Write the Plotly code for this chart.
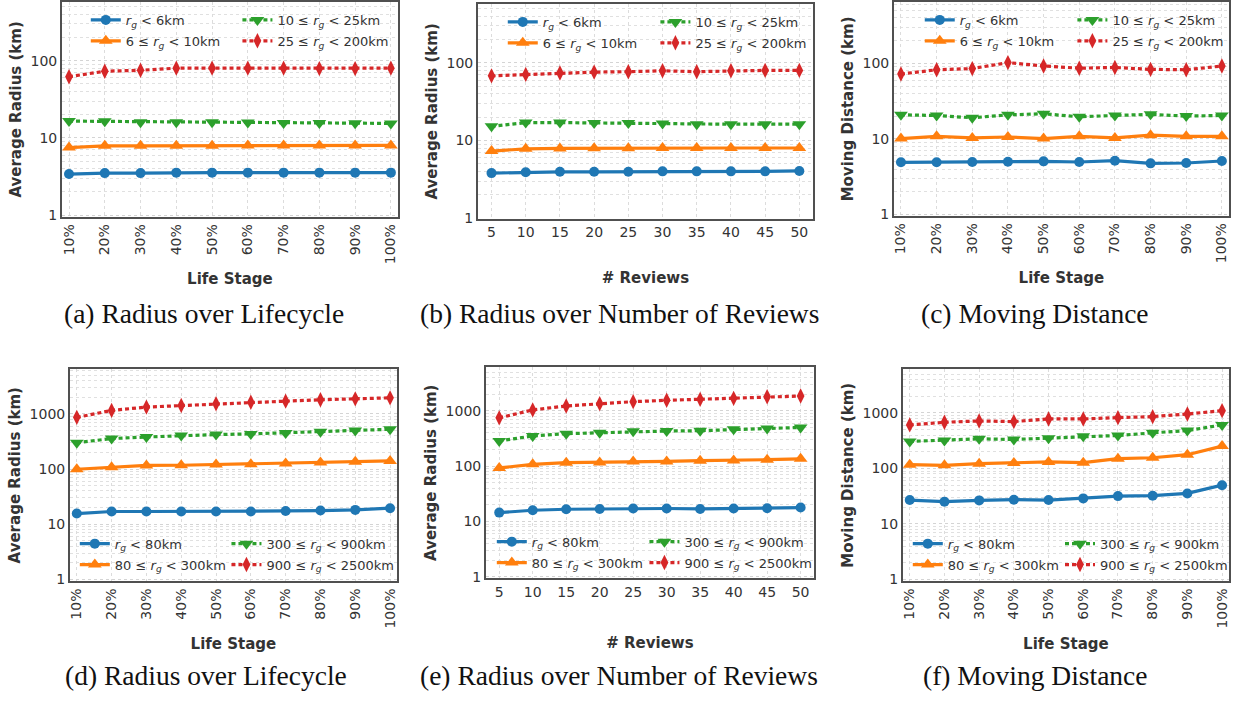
import plotly.graph_objects as go

# ---------------- data ----------------
stages = ["10%", "20%", "30%", "40%", "50%", "60%", "70%", "80%", "90%", "100%"]
reviews = [5, 10, 15, 20, 25, 30, 35, 40, 45, 50]

top_names = ["<i>r</i><sub><i>g</i></sub> &lt; 6km",
             "6 ≤ <i>r</i><sub><i>g</i></sub> &lt; 10km",
             "10 ≤ <i>r</i><sub><i>g</i></sub> &lt; 25km",
             "25 ≤ <i>r</i><sub><i>g</i></sub> &lt; 200km"]
bot_names = ["<i>r</i><sub><i>g</i></sub> &lt; 80km",
             "80 ≤ <i>r</i><sub><i>g</i></sub> &lt; 300km",
             "300 ≤ <i>r</i><sub><i>g</i></sub> &lt; 900km",
             "900 ≤ <i>r</i><sub><i>g</i></sub> &lt; 2500km"]

# (a) radius over lifecycle, small groups
a_s1 = [3.4, 3.5, 3.5, 3.55, 3.55, 3.55, 3.55, 3.55, 3.55, 3.55]
a_s2 = [7.5, 7.9, 7.9, 7.9, 7.9, 7.95, 7.95, 8.0, 8.0, 8.0]
a_s3 = [16.5, 16.4, 16.0, 16.0, 15.9, 15.8, 15.6, 15.6, 15.5, 15.4]
a_s4 = [62, 73, 75, 80, 80, 80, 80, 79, 79, 80]
# (b) radius over number of reviews
b_s1 = [3.8, 3.9, 3.95, 3.95, 3.95, 4.0, 4.0, 4.0, 4.0, 4.05]
b_s2 = [7.3, 7.8, 7.9, 7.95, 7.95, 8.0, 8.0, 8.0, 8.0, 8.0]
b_s3 = [15.2, 17.0, 17.0, 16.8, 16.8, 16.5, 16.2, 16.2, 16.2, 16.2]
b_s4 = [68, 71, 74, 76, 77, 79, 77, 79, 80, 80]
# (c) moving distance
c_s1 = [4.9, 4.9, 4.95, 5.0, 5.05, 4.95, 5.15, 4.75, 4.8, 5.1]
c_s2 = [10.1, 10.8, 10.3, 10.6, 10.1, 10.8, 10.3, 11.2, 10.8, 10.8]
c_s3 = [20.8, 20.4, 19.0, 20.8, 21.5, 19.6, 20.4, 21.1, 20.0, 20.4]
c_s4 = [72, 82, 85, 102, 92, 86, 88, 83, 82, 92]
# (d) radius over lifecycle, large groups
d_s1 = [15.6, 17.0, 17.0, 17.0, 17.0, 17.0, 17.4, 17.7, 18.2, 19.5]
d_s2 = [99, 108, 116, 117, 121, 122, 126, 131, 135, 140]
d_s3 = [300, 355, 380, 405, 420, 432, 450, 474, 495, 524]
d_s4 = [860, 1150, 1320, 1410, 1520, 1620, 1690, 1790, 1860, 1940]
# (e) radius over number of reviews, large groups
e_s1 = [14.5, 16.0, 16.7, 16.9, 17.2, 17.2, 16.9, 17.2, 17.4, 17.9]
e_s2 = [93, 108, 116, 117, 121, 122, 126, 127, 131, 136]
e_s3 = [286, 352, 387, 403, 426, 432, 438, 463, 482, 502]
e_s4 = [748, 1040, 1226, 1350, 1466, 1550, 1615, 1683, 1803, 1853]
# (f) moving distance, large groups
f_s1 = [27, 25.2, 26.6, 27.4, 27, 28.9, 31.8, 32.3, 35.5, 50]
f_s2 = [117, 114, 122, 126, 131, 127, 150, 156, 177, 253]
f_s3 = [307, 320, 342, 333, 352, 382, 393, 438, 482, 609]
f_s4 = [609, 680, 718, 699, 780, 780, 824, 859, 957, 1100]

captions = ["(a) Radius over Lifecycle", "(b) Radius over Number of Reviews",
            "(c) Moving Distance", "(d) Radius over Lifecycle",
            "(e) Radius over Number of Reviews", "(f) Moving Distance"]

# ---------------- styling ----------------
W, H = 1233, 702
colors = ["#1f77b4", "#ff7f0e", "#2ca02c", "#d62728"]
symbols = ["circle", "triangle-up", "triangle-down", "diamond-tall"]
msizes = [10, 12, 12, 11]
dashes = ["solid", "solid", "4px,3px", "4px,3px"]
FONT = "DejaVu Sans"
TXT = "#333333"


def px(x0, x1):
    return [x0 / W, x1 / W]


def py(top, bottom):
    return [1 - bottom / H, 1 - top / H]


panels = [
    dict(data=[a_s1, a_s2, a_s3, a_s4], names=top_names, kind="stage",
         xd=px(60, 397), yd=py(2, 219), yr=[-0.022, 2.76], ytitle="Average Radius (km)",
         xtitle="Life Stage", xst=10, leg=[(84, 5), (236, 5)]),
    dict(data=[b_s1, b_s2, b_s3, b_s4], names=top_names, kind="rev",
         xd=px(477, 813), yd=py(4, 221), yr=[-0.009, 2.759], ytitle="Average Radius (km)",
         xtitle="# Reviews", xst=33, leg=[(502, 7), (655, 7)]),
    dict(data=[c_s1, c_s2, c_s3, c_s4], names=top_names, kind="stage",
         xd=px(894, 1230), yd=py(2, 218), yr=[-0.017, 2.81], ytitle="Moving Distance (km)",
         xtitle="Life Stage", xst=10, leg=[(920, 5), (1073, 5)]),
    dict(data=[d_s1, d_s2, d_s3, d_s4], names=bot_names, kind="stage",
         xd=px(68, 396), yd=py(373, 587), yr=[-0.03, 3.805], ytitle="Average Radius (km)",
         xtitle="Life Stage", xst=11, leg=[(73, 534), (225, 534)]),
    dict(data=[e_s1, e_s2, e_s3, e_s4], names=bot_names, kind="rev",
         xd=px(485, 814), yd=py(371, 584), yr=[-0.023, 3.787], ytitle="Average Radius (km)",
         xtitle="# Reviews", xst=39, leg=[(491, 532), (644, 532)]),
    dict(data=[f_s1, f_s2, f_s3, f_s4], names=bot_names, kind="stage",
         xd=px(903, 1230), yd=py(373, 587), yr=[-0.03, 3.787], ytitle="Moving Distance (km)",
         xtitle="Life Stage", xst=11, leg=[(908, 534), (1061, 534)]),
]

fig = go.Figure()
layout = {}
legn = 0
for i, p in enumerate(panels):
    k = "" if i == 0 else str(i + 1)
    xs = list(range(len(stages))) if p["kind"] == "stage" else reviews
    legs = []
    for c in range(2):
        legn += 1
        lk = "legend" if legn == 1 else "legend%d" % legn
        legs.append(lk)
        lx, ly = p["leg"][c]
        layout[lk] = dict(x=lx / W, y=1 - ly / H, xanchor="left", yanchor="top",
                          orientation="v", bgcolor="rgba(0,0,0,0)", borderwidth=0,
                          tracegroupgap=1,
                          font=dict(family=FONT, size=13, color=TXT))
    for j in range(4):
        fig.add_trace(go.Scatter(
            x=xs, y=p["data"][j], name=p["names"][j], mode="lines+markers",
            xaxis="x" + k, yaxis="y" + k,
            legend=legs[j // 2], legendgroup="g%d_%d" % (i, j),
            line=dict(color=colors[j], width=3.2, dash=dashes[j]),
            marker=dict(symbol=symbols[j], size=msizes[j], color=colors[j], line=dict(width=0)),
        ))
    if p["kind"] == "stage":
        xa = dict(range=[-0.2, 9.2], tickmode="array", tickvals=list(range(10)), ticktext=stages,
                  tickangle=-90)
    else:
        xa = dict(range=[3, 52], tickmode="array", tickvals=reviews, ticktext=[str(r) for r in reviews],
                  tickangle=0)
    xa.update(domain=p["xd"], anchor="y" + k, showgrid=True, gridcolor="#dcdcdc", griddash="dot",
              gridwidth=1, showline=True, mirror=True, linecolor="#505050", linewidth=1.6,
              ticks="", zeroline=False,
              tickfont=dict(family=FONT, size=14, color=TXT),
              title=dict(text=p["xtitle"], standoff=p["xst"],
                         font=dict(family=FONT, size=15, color=TXT, weight="bold")))
    ytv = [1, 10, 100] if i < 3 else [1, 10, 100, 1000]
    ya = dict(type="log", range=p["yr"], domain=p["yd"], anchor="x" + k,
              tickmode="array", tickvals=ytv, ticktext=[str(v) for v in ytv],
              showgrid=True, gridcolor="#d4d4d4", griddash="dot", gridwidth=1,
              minor=dict(showgrid=True, gridcolor="#e0e0e0", griddash="dot", gridwidth=1, dtick="D1"),
              showline=True, mirror=True, linecolor="#505050", linewidth=1.6,
              ticks="", zeroline=False,
              tickfont=dict(family=FONT, size=14, color=TXT),
              title=dict(text=p["ytitle"], standoff=5,
                         font=dict(family=FONT, size=15, color=TXT, weight="bold")))
    layout["xaxis" + k] = xa
    layout["yaxis" + k] = ya

annots = []
cap_pos = [(202, 317), (619, 317), (1036, 317), (204, 682), (619, 682), (1036, 682)]
for cap, (cx, cy) in zip(captions, cap_pos):
    annots.append(dict(text=cap, x=cx / W, y=1 - cy / H, xref="paper", yref="paper",
                       xanchor="center", yanchor="middle", showarrow=False,
                       font=dict(family="Liberation Serif", size=27.5, color="#111111")))

fig.update_layout(width=W, height=H, margin=dict(l=0, r=0, t=0, b=0),
                  paper_bgcolor="white", plot_bgcolor="white",
                  showlegend=True, annotations=annots, **layout)

fig.write_html("out.html")
